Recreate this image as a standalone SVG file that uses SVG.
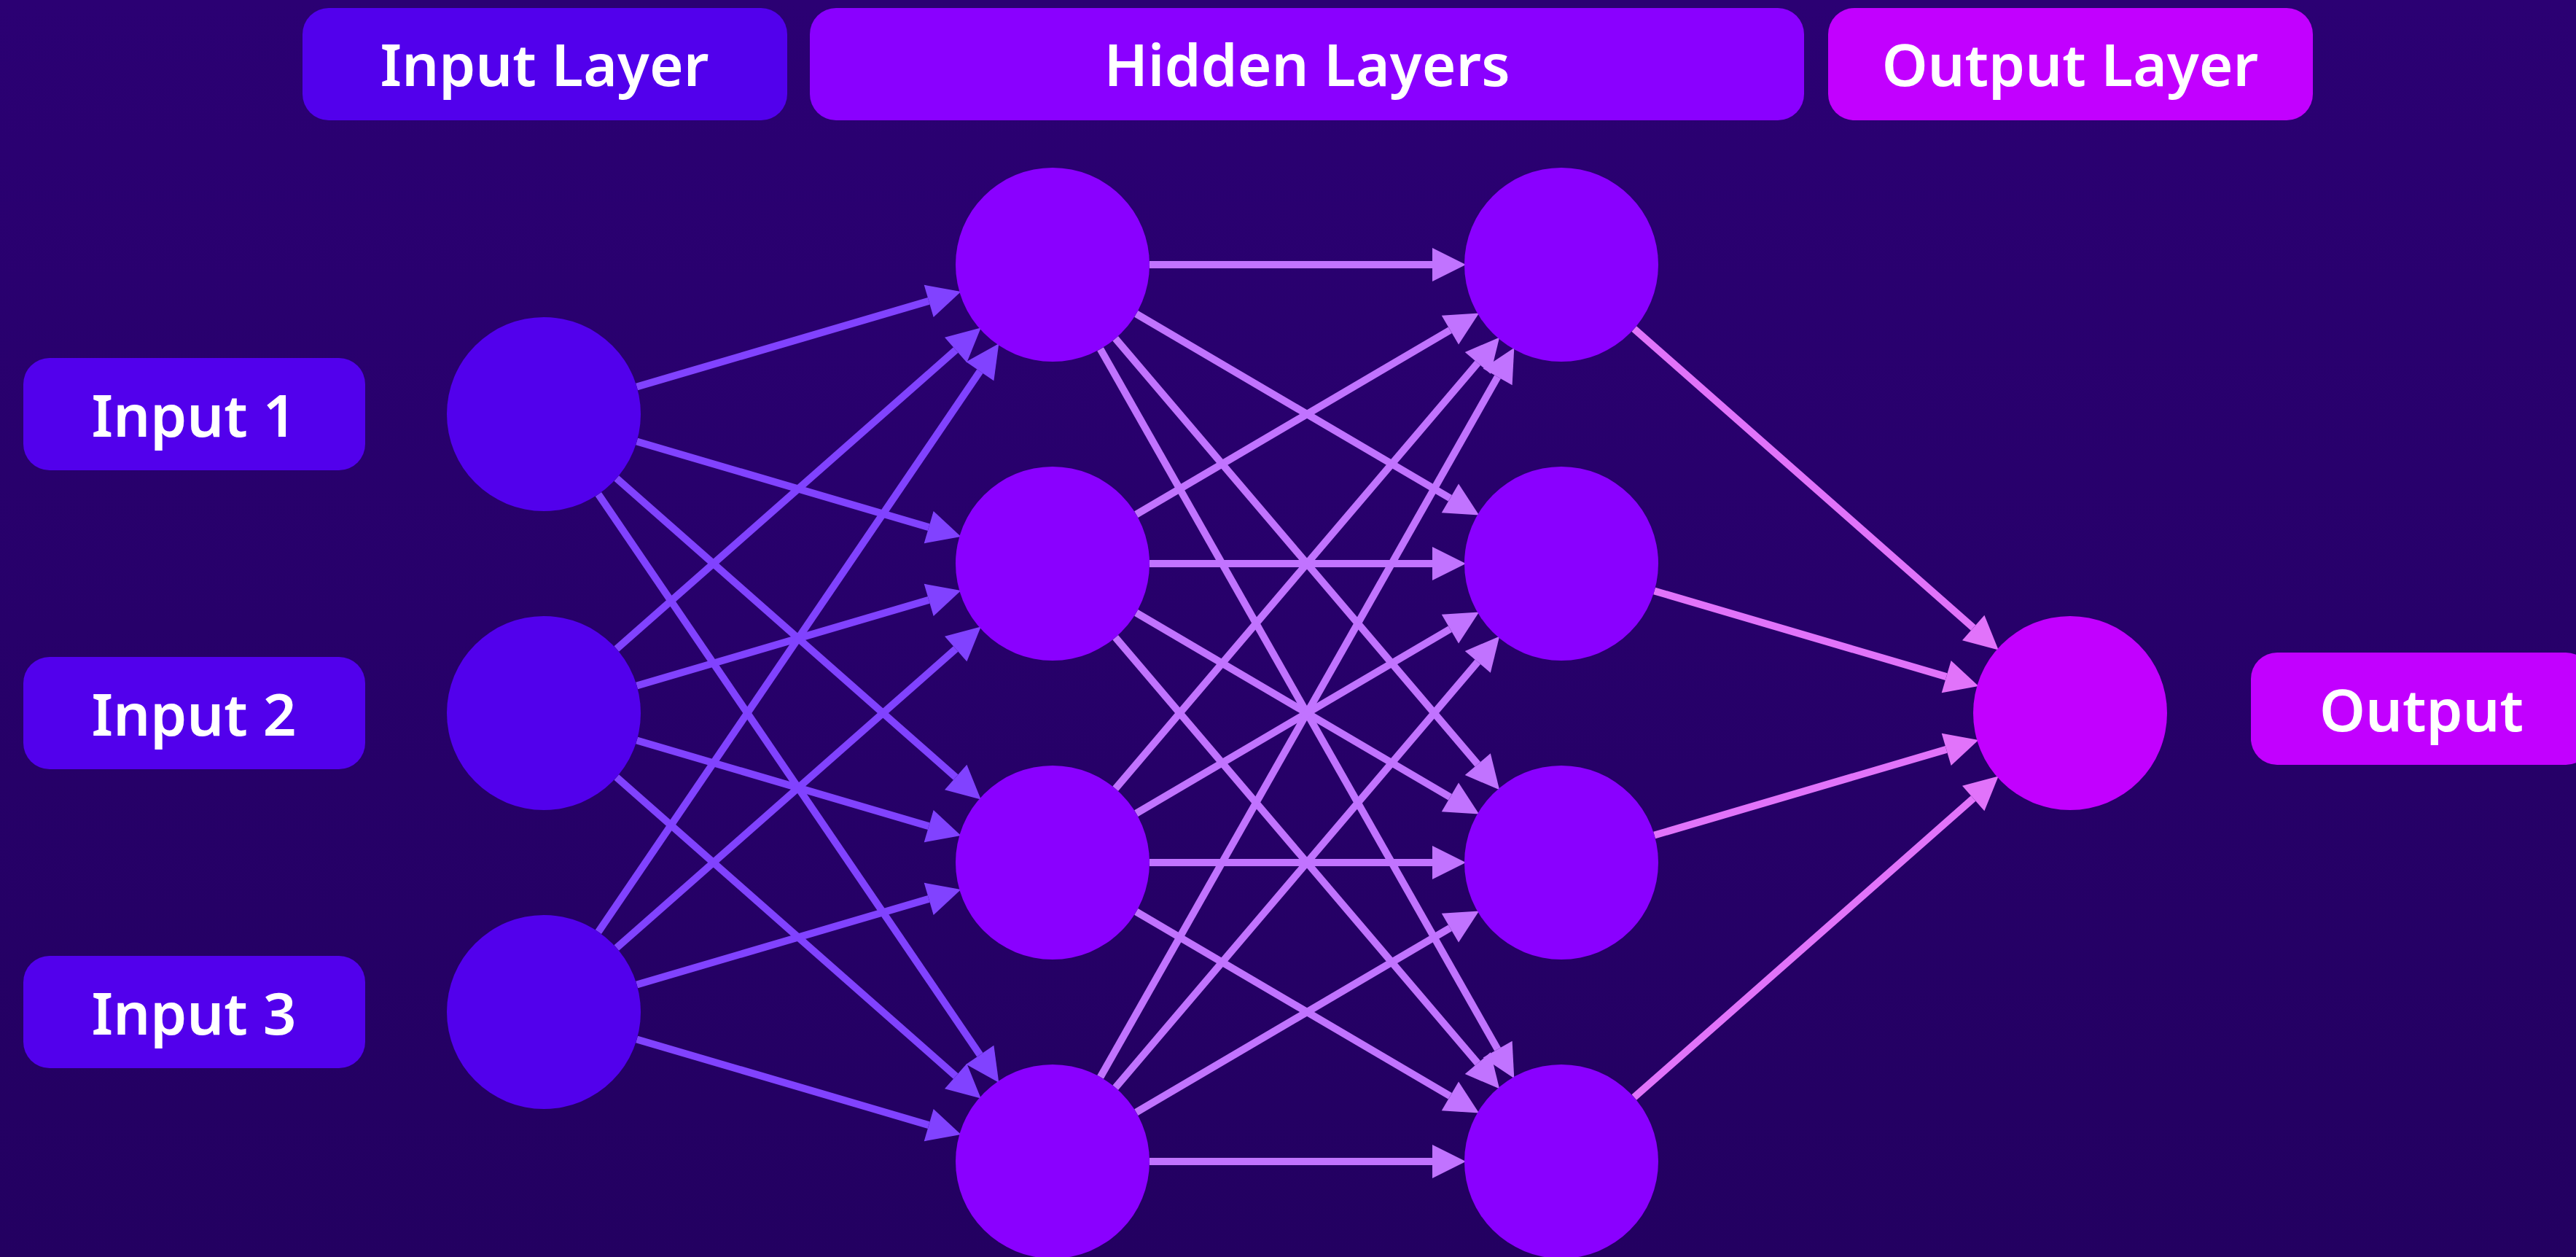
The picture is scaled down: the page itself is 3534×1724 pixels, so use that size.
<svg xmlns="http://www.w3.org/2000/svg" width="3534" height="1724" viewBox="0 0 3534 1724">
<defs>
<linearGradient id="bg" x1="0" y1="0" x2="0" y2="1">
<stop offset="0" stop-color="#2B0073"/>
<stop offset="1" stop-color="#230061"/>
</linearGradient>
<marker id="ah1" markerUnits="userSpaceOnUse" markerWidth="46" markerHeight="46" refX="0" refY="22" orient="auto" viewBox="0 0 44 44" overflow="visible"><path d="M0,0 L44,22 L0,44 z" fill="#8142FF"/></marker>
<marker id="ah2" markerUnits="userSpaceOnUse" markerWidth="46" markerHeight="46" refX="0" refY="22" orient="auto" viewBox="0 0 44 44" overflow="visible"><path d="M0,0 L44,22 L0,44 z" fill="#C173FF"/></marker>
<marker id="ah3" markerUnits="userSpaceOnUse" markerWidth="46" markerHeight="46" refX="0" refY="22" orient="auto" viewBox="0 0 44 44" overflow="visible"><path d="M0,0 L44,22 L0,44 z" fill="#E173FA"/></marker>
</defs>
<style>
.lbl{font-family:"Noto Sans","Liberation Sans",sans-serif;font-weight:600;font-size:80px;fill:#FFFFFF;text-anchor:middle}
.cin{fill:#5200EC}
.chid{fill:#8A00FF}
.cout{fill:#C200FF}
.e1{stroke:#8142FF;stroke-width:10;fill:none;marker-end:url(#ah1)}
.e2{stroke:#C173FF;stroke-width:10;fill:none;marker-end:url(#ah2)}
.e3{stroke:#E173FA;stroke-width:10;fill:none;marker-end:url(#ah3)}
</style>
<rect x="0" y="0" width="3534" height="1724" fill="url(#bg)"/>

<g id="header-input-layer"><rect class="cin" x="415" y="11" width="665" height="154" rx="36"/><text class="lbl" x="747" y="118">Input Layer</text></g>
<g id="header-hidden-layers"><rect class="chid" x="1111" y="11" width="1364" height="154" rx="36"/><text class="lbl" x="1793" y="118">Hidden Layers</text></g>
<g id="header-output-layer"><rect class="cout" x="2508" y="11" width="665" height="154" rx="36"/><text class="lbl" x="2840" y="118">Output Layer</text></g>

<g id="label-input-1"><rect class="cin" x="32" y="491" width="469" height="154" rx="36"/><text class="lbl" x="266" y="599">Input 1</text></g>
<g id="label-input-2"><rect class="cin" x="32" y="901" width="469" height="154" rx="36"/><text class="lbl" x="266" y="1009">Input 2</text></g>
<g id="label-input-3"><rect class="cin" x="32" y="1311" width="469" height="154" rx="36"/><text class="lbl" x="266" y="1419">Input 3</text></g>
<g id="label-output"><rect class="cout" x="3088" y="895" width="468" height="154" rx="36"/><text class="lbl" x="3322" y="1003">Output</text></g>

<g id="connectors">
<line class="e1" x1="873.6" y1="530.5" x2="1274.2" y2="412.9"/>
<line class="e1" x1="873.6" y1="605.5" x2="1274.2" y2="723.1"/>
<line class="e1" x1="845.8" y1="655.9" x2="1311.2" y2="1066.0"/>
<line class="e1" x1="820.9" y1="677.9" x2="1344.4" y2="1446.7"/>
<line class="e1" x1="845.8" y1="890.1" x2="1311.2" y2="480.0"/>
<line class="e1" x1="873.6" y1="940.5" x2="1274.2" y2="822.9"/>
<line class="e1" x1="873.6" y1="1015.5" x2="1274.2" y2="1133.1"/>
<line class="e1" x1="845.8" y1="1065.9" x2="1311.2" y2="1476.0"/>
<line class="e1" x1="820.9" y1="1278.1" x2="1344.4" y2="509.3"/>
<line class="e1" x1="845.8" y1="1300.1" x2="1311.2" y2="890.0"/>
<line class="e1" x1="873.6" y1="1350.5" x2="1274.2" y2="1232.9"/>
<line class="e1" x1="873.6" y1="1425.5" x2="1274.2" y2="1543.1"/>

<line class="e2" x1="1577" y1="363" x2="1965" y2="363"/>
<line class="e2" x1="1558.7" y1="430.4" x2="1989.4" y2="683.3"/>
<line class="e2" x1="1530.2" y1="464.3" x2="2027.3" y2="1048.2"/>
<line class="e2" x1="1509.6" y1="478.7" x2="2054.6" y2="1439.1"/>
<line class="e2" x1="1558.7" y1="705.6" x2="1989.4" y2="452.7"/>
<line class="e2" x1="1577" y1="773" x2="1965" y2="773"/>
<line class="e2" x1="1558.7" y1="840.4" x2="1989.4" y2="1093.3"/>
<line class="e2" x1="1530.2" y1="874.3" x2="2027.3" y2="1458.2"/>
<line class="e2" x1="1530.2" y1="1081.7" x2="2027.3" y2="497.8"/>
<line class="e2" x1="1558.7" y1="1115.6" x2="1989.4" y2="862.7"/>
<line class="e2" x1="1577" y1="1183" x2="1965" y2="1183"/>
<line class="e2" x1="1558.7" y1="1250.4" x2="1989.4" y2="1503.3"/>
<line class="e2" x1="1509.6" y1="1477.3" x2="2054.6" y2="516.9"/>
<line class="e2" x1="1530.2" y1="1491.7" x2="2027.3" y2="907.8"/>
<line class="e2" x1="1558.7" y1="1525.6" x2="1989.4" y2="1272.7"/>
<line class="e2" x1="1577" y1="1593" x2="1965" y2="1593"/>

<line class="e3" x1="2241.8" y1="450.9" x2="2707.2" y2="861.0"/>
<line class="e3" x1="2269.6" y1="810.5" x2="2670.2" y2="928.1"/>
<line class="e3" x1="2269.6" y1="1145.5" x2="2670.2" y2="1027.9"/>
<line class="e3" x1="2241.8" y1="1505.1" x2="2707.2" y2="1095.0"/>
</g>

<g id="node-input-1"><circle class="cin" cx="746" cy="568" r="133"/></g>
<g id="node-input-2"><circle class="cin" cx="746" cy="978" r="133"/></g>
<g id="node-input-3"><circle class="cin" cx="746" cy="1388" r="133"/></g>
<g id="node-hidden1-1"><circle class="chid" cx="1444" cy="363" r="133"/></g>
<g id="node-hidden1-2"><circle class="chid" cx="1444" cy="773" r="133"/></g>
<g id="node-hidden1-3"><circle class="chid" cx="1444" cy="1183" r="133"/></g>
<g id="node-hidden1-4"><circle class="chid" cx="1444" cy="1593" r="133"/></g>
<g id="node-hidden2-1"><circle class="chid" cx="2142" cy="363" r="133"/></g>
<g id="node-hidden2-2"><circle class="chid" cx="2142" cy="773" r="133"/></g>
<g id="node-hidden2-3"><circle class="chid" cx="2142" cy="1183" r="133"/></g>
<g id="node-hidden2-4"><circle class="chid" cx="2142" cy="1593" r="133"/></g>
<g id="node-output"><circle class="cout" cx="2840" cy="978" r="133"/></g>
</svg>
